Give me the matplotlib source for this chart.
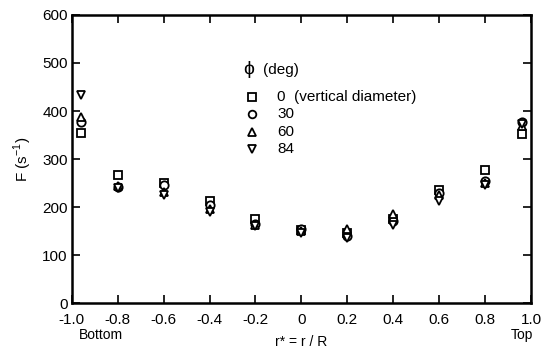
import matplotlib.pyplot as plt

plt.rcParams['font.family'] = ['Liberation Sans', 'DejaVu Sans']

r_star = [-0.96, -0.8, -0.6, -0.4, -0.2, 0.0, 0.2, 0.4, 0.6, 0.8, 0.96]

# F (s^-1) for each phi angle
f_phi0 = [355, 267, 250, 213, 175, 152, 145, 175, 235, 278, 352]
f_phi30 = [378, 242, 245, 205, 165, 155, 140, 170, 230, 255, 378]
f_phi60 = [388, 243, 232, 195, 162, 150, 155, 185, 225, 250, 368]
f_phi84 = [433, 240, 226, 190, 160, 145, 135, 163, 213, 245, 372]

legend_labels = ["0  (vertical diameter)", "30", "60", "84"]
markers = ["s", "o", "^", "v"]

x_ticks = [-1.0, -0.8, -0.6, -0.4, -0.2, 0.0, 0.2, 0.4, 0.6, 0.8, 1.0]
x_tick_labels = ["-1.0", "-0.8", "-0.6", "-0.4", "-0.2", "0", "0.2", "0.4", "0.6", "0.8", "1.0"]
y_ticks = [0, 100, 200, 300, 400, 500, 600]

fig = plt.figure(figsize=(5.44, 3.48), dpi=100)
ax = fig.add_axes([0.132, 0.129, 0.844, 0.828])

for vals, m in zip([f_phi0, f_phi30, f_phi60, f_phi84], markers):
    ax.plot(r_star, vals, linestyle="none", marker=m, markersize=6,
            markerfacecolor="white", markeredgecolor="black", markeredgewidth=1.3)

ax.set_xlim(-1.0, 1.0)
ax.set_ylim(0, 600)
ax.set_xticks(x_ticks)
ax.set_xticklabels(x_tick_labels)
ax.set_yticks(y_ticks)
ax.tick_params(direction="in", top=True, right=True, length=6, width=1.2,
               labelsize=11)
ax.tick_params(axis="x", pad=7)
ax.tick_params(axis="y", pad=3)
for s in ax.spines.values():
    s.set_linewidth(1.8)

ax.set_xlabel("r* = r / R", fontsize=10, labelpad=6)
ax.set_ylabel("F (s$^{\\mathregular{-1}}$)", fontsize=11, labelpad=6)

# Bottom / Top labels under the axis ends
ax.text(-0.97, -0.085, "Bottom", transform=ax.get_xaxis_transform(),
        ha="left", va="top", fontsize=10)
ax.text(0.96, -0.085, "Top", transform=ax.get_xaxis_transform(),
        ha="center", va="top", fontsize=10)

# hand-made legend
ax.text(0.373, 0.81, "\u03d5", transform=ax.transAxes, fontsize=14, va="center")
ax.text(0.417, 0.81, "(deg)", transform=ax.transAxes, fontsize=11, va="center")
row_y = [0.716, 0.657, 0.594, 0.535]
for m, lab, yy in zip(markers, legend_labels, row_y):
    ax.plot([0.392], [yy], transform=ax.transAxes, linestyle="none", marker=m,
            markersize=5.5, markerfacecolor="white", markeredgecolor="black",
            markeredgewidth=1.3)
    ax.text(0.447, yy, lab, transform=ax.transAxes, fontsize=11, va="center")

fig.savefig("out.png", dpi=100)
